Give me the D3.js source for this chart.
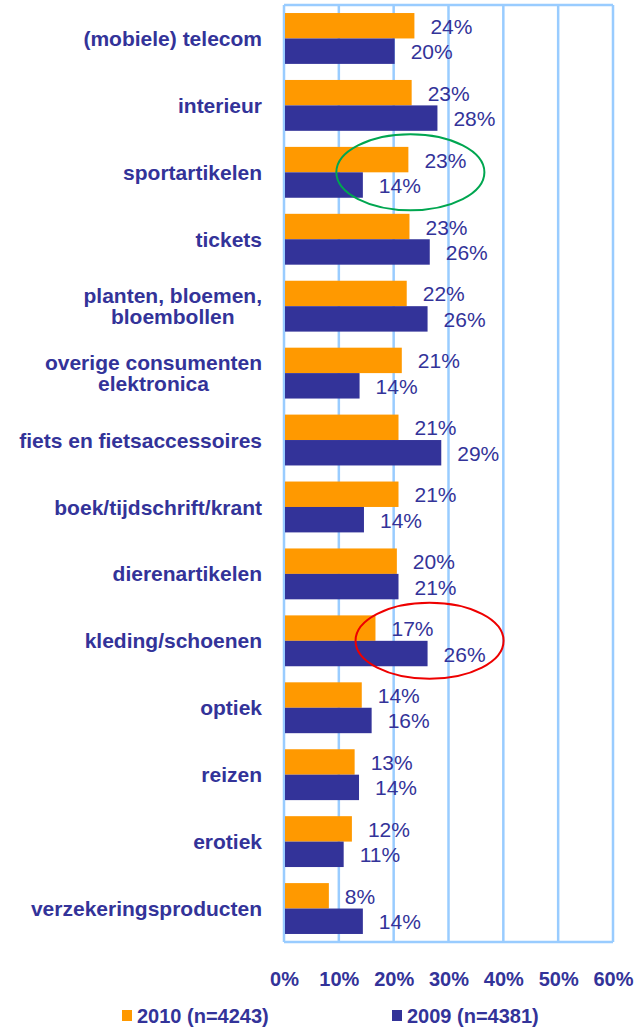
<!DOCTYPE html>
<html>
<head>
<meta charset="utf-8">
<script src="https://cdn.jsdelivr.net/npm/d3@7"></script>
<style>
  body { margin: 0; background: #ffffff; }
  text { font-family: Arial, "Liberation Sans", sans-serif; fill: #333399; }
</style>
</head>
<body>
<div class="svg-container"></div>
<script>
var width = 637;
var height = 1027;

var padding = { "top": 5,
                "right": 23,
                "bottom": 85,
                "left": 284 };

// data
var categories = ["(mobiele) telecom", "interieur", "sportartikelen", "tickets",
                  "planten, bloemen,\nbloembollen", "overige consumenten\nelektronica",
                  "fiets en fietsaccessoires", "boek/tijdschrift/krant", "dierenartikelen",
                  "kleding/schoenen", "optiek", "reizen", "erotiek", "verzekeringsproducten"];
var values2010 = [23.6, 23.1, 22.5, 22.7, 22.2, 21.3, 20.7, 20.7, 20.4, 16.5, 14.0, 12.7, 12.2, 8.0];
var values2009 = [20.0, 27.8, 14.2, 26.4, 26.0, 13.6, 28.5, 14.4, 20.7, 26.0, 15.8, 13.5, 10.7, 14.2];
var series = ["2010 (n=4243)", "2009 (n=4381)"];
var seriesColors = ["#ff9900", "#333399"];
var xTicks = [0, 10, 20, 30, 40, 50, 60];
var highlighted = ["sportartikelen", "kleding/schoenen"];
var highlightColors = ["#00a650", "#ee0000"];

var innerW = width - padding.left - padding.right;
var innerH = height - padding.top - padding.bottom;

var svg = d3.select(".svg-container")
            .append("svg")
            .attr("width", width)
            .attr("height", height);

var g = svg.append("g")
           .attr("transform", "translate(" + padding.left + "," + padding.top + ")");

// scales
var scaleX = d3.scaleLinear().domain([0, 60]).range([0, innerW - 1]);
var scaleY = d3.scaleBand().domain(categories).range([0, innerH])
               .paddingInner(0.24).paddingOuter(0.12);
var scaleS = d3.scaleBand().domain(series).range([0, scaleY.bandwidth()]);

var rows = categories.map(function(c, i) {
    return { cat: c, vals: [values2010[i], values2009[i]] };
});

var gridColor = "#99ccff";

// gridlines + frame
g.append("g").selectAll("line")
    .data(xTicks)
    .enter().append("line")
    .attr("x1", function(d) { return scaleX(d); })
    .attr("x2", function(d) { return scaleX(d); })
    .attr("y1", 0)
    .attr("y2", innerH)
    .attr("stroke", gridColor)
    .attr("stroke-width", 2.5);

g.append("g").selectAll("line")
    .data([0, innerH])
    .enter().append("line")
    .attr("x1", scaleX(0))
    .attr("x2", scaleX(60))
    .attr("y1", function(d) { return d; })
    .attr("y2", function(d) { return d; })
    .attr("stroke", gridColor)
    .attr("stroke-width", 2.5);

// bars
var groups = g.append("g").selectAll("g")
    .data(rows)
    .enter().append("g")
    .attr("transform", function(d) { return "translate(0," + scaleY(d.cat) + ")"; });

groups.selectAll("rect")
    .data(function(d) { return d.vals.map(function(v, j) { return { v: v, s: series[j], j: j }; }); })
    .enter().append("rect")
    .attr("x", scaleX(0) + 1)
    .attr("y", function(d) { return scaleS(d.s); })
    .attr("width", function(d) { return scaleX(d.v) - scaleX(0); })
    .attr("height", scaleS.bandwidth())
    .attr("fill", function(d) { return seriesColors[d.j]; });

// value labels
groups.selectAll("text.val")
    .data(function(d) { return d.vals.map(function(v, j) { return { v: v, s: series[j] }; }); })
    .enter().append("text")
    .attr("class", "val")
    .attr("x", function(d) { return scaleX(d.v) + 17; })
    .attr("y", function(d) { return scaleS(d.s) + scaleS.bandwidth() / 2; })
    .attr("dy", "0.38em")
    .style("font-size", "21px")
    .text(function(d) { return Math.round(d.v) + "%"; });

// category labels, multi-line ones centred as a block
var labelRight = -22;
var lineH = 21;
rows.forEach(function(d) {
    var lines = d.cat.split("\n");
    var t = g.append("text")
             .attr("class", "cat")
             .style("font-size", "21px")
             .style("font-weight", "bold");
    var cy = scaleY(d.cat) + scaleY.bandwidth() / 2;
    var y0 = cy - (lines.length - 1) * lineH / 2;
    lines.forEach(function(l, k) {
        t.append("tspan").attr("y", y0 + k * lineH).attr("dy", "0.36em").text(l);
    });
    var maxW = 0;
    t.selectAll("tspan").each(function() { maxW = Math.max(maxW, this.getComputedTextLength()); });
    t.attr("text-anchor", "middle");
    t.selectAll("tspan").attr("x", labelRight - maxW / 2);
});

// x axis
var xAxis = g.append("g")
    .attr("transform", "translate(0," + innerH + ")")
    .call(d3.axisBottom(scaleX).tickValues(xTicks)
            .tickFormat(function(d) { return d + "%"; })
            .tickSize(0).tickPadding(30));
xAxis.select(".domain").remove();
xAxis.selectAll("text")
    .attr("fill", "#333399")
    .style("font-size", "20px")
    .style("font-weight", "bold")
    .style("font-family", "Arial, 'Liberation Sans', sans-serif");

// highlight ellipses
g.append("g").selectAll("ellipse")
    .data(highlighted)
    .enter().append("ellipse")
    .attr("cx", function(c) {
        var i = categories.indexOf(c);
        return scaleX(Math.max(values2010[i], values2009[i])) + 3;
    })
    .attr("cy", function(c) { return scaleY(c) + scaleY.bandwidth() / 2; })
    .attr("rx", scaleX(13.5) - scaleX(0))
    .attr("ry", 38)
    .attr("fill", "none")
    .attr("stroke", function(c, i) { return highlightColors[i]; })
    .attr("stroke-width", 2);

// legend
var legendX = [122, 392];
var legend = svg.append("g").selectAll("g")
    .data(series)
    .enter().append("g")
    .attr("transform", function(d, i) { return "translate(" + legendX[i] + ",1010)"; });

legend.append("rect")
    .attr("width", 10)
    .attr("height", 11)
    .attr("fill", function(d, i) { return seriesColors[i]; });

legend.append("text")
    .attr("x", 15)
    .attr("y", 13)
    .style("font-size", "20px")
    .style("font-weight", "bold")
    .text(function(d) { return d; });
</script>
</body>
</html>
